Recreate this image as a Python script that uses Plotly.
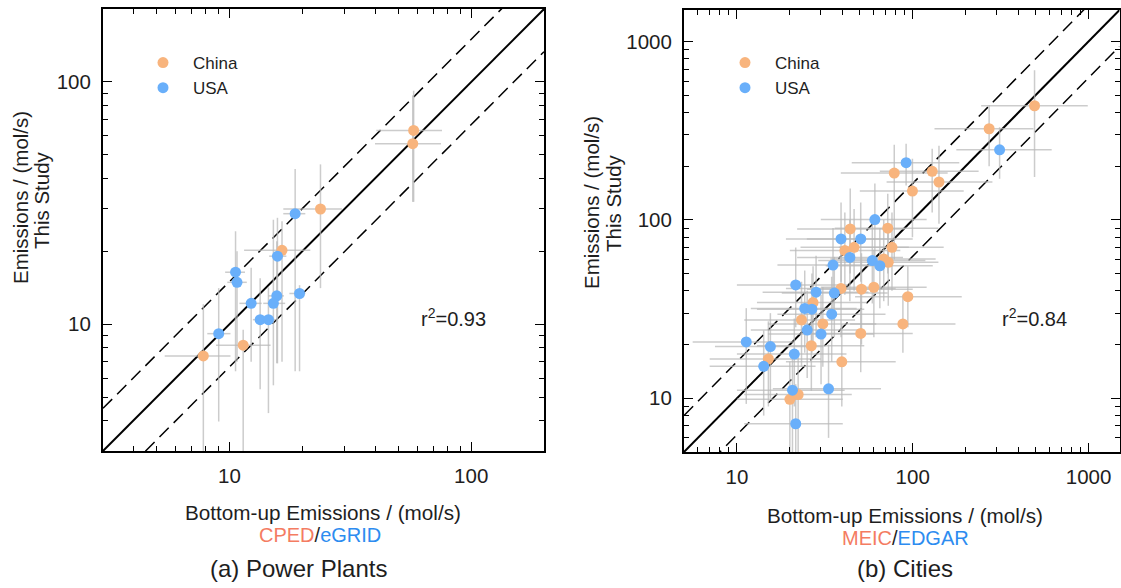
import math
import plotly.graph_objects as go

W, H = 1121, 588

# ---------------- Panel (a) Power Plants ----------------
pp_china_x = [57.8, 57.3, 23.8, 16.5, 11.4, 7.8]
pp_china_y = [63.1, 55.6, 29.9, 20.2, 8.2, 7.4]
pp_china_xlo = [40.5, 40.0, 16.7, 11.5, 8.8, 5.4]
pp_china_xhi = [75.7, 75.0, 29.2, 21.6, 14.8, 10.1]
pp_china_ylo = [32.0, 32.0, 14.1, 7.0, 2.0, 2.0]
pp_china_yhi = [92.0, 88.0, 45.7, 26.6, 9.5, 12.1]

pp_usa_x = [18.7, 15.8, 10.6, 10.75, 12.3, 15.7, 15.2, 19.5, 13.4, 14.5, 9.03]
pp_usa_y = [28.6, 19.1, 16.4, 14.9, 12.2, 13.1, 12.2, 13.4, 10.45, 10.45, 9.15]
pp_usa_xlo = [16.7, 14.6, 9.6, 9.8, 11.0, 14.5, 13.8, 17.7, 12.5, 13.5, 8.1]
pp_usa_xhi = [20.6, 17.2, 11.6, 11.8, 13.6, 16.8, 17.0, 20.6, 14.5, 15.5, 10.1]
pp_usa_ylo = [6.4, 6.9, 6.4, 7.0, 7.0, 6.9, 5.6, 6.4, 5.4, 4.3, 3.97]
pp_usa_yhi = [43.7, 27.5, 24.2, 20.0, 17.1, 22.0, 27.0, 14.5, 15.5, 14.2, 14.1]

# ---------------- Panel (b) Cities ----------------
ct_china_x = [493, 272, 78.5, 129, 141, 99.6, 44.1, 72.1, 76.2, 46.4, 41.1, 68.4, 72.6,
              51.1, 60.1, 39.1, 93.8, 87.9, 50.6, 39.5, 30.8, 27.1, 23.3, 26.5, 15.1, 20.0, 22.3]
ct_china_y = [436, 324, 183, 187, 163, 145, 89, 89.8, 70.2, 70.2, 67.3, 60.4, 57.8,
              40.9, 41.9, 41.3, 37.1, 26.1, 23.1, 16.0, 26.1, 34.4, 27.5, 19.7, 16.6, 9.87, 10.5]
ct_china_xlo = [245, 133, 39, 65, 71, 50, 22, 36, 38, 23, 20, 34, 36,
                25, 30, 19, 47, 44, 25, 19, 15, 13, 11, 13, 7, 10, 11]
ct_china_xhi = [990, 486, 158, 237, 284, 195, 90, 140, 150, 95, 85, 135, 140,
                100, 120, 80, 190, 175, 100, 80, 62, 55, 47, 53, 30, 40, 45]
ct_china_ylo = [174, 200, 60, 110, 95, 80, 50, 50, 40, 40, 38, 35, 33,
                20, 22, 22, 25, 18, 14, 9, 15, 20, 15, 11, 9, 4, 5]
ct_china_yhi = [690, 440, 264, 250, 260, 220, 150, 140, 110, 115, 110, 100, 95,
                65, 68, 70, 55, 38, 40, 26, 42, 55, 45, 32, 27, 16, 17]

ct_usa_x = [312, 91.7, 60.9, 39.1, 50.6, 43.9, 35.2, 58.9, 65.0, 21.6, 28.2, 35.8,
            24.3, 26.7, 34.6, 25.1, 30.1, 11.3, 15.5, 14.2, 21.2, 20.7, 33.2, 21.6]
ct_usa_y = [247, 209, 100.4, 78.2, 78.2, 61.6, 55.8, 59.1, 55.3, 43.2, 39.3, 38.9,
            31.9, 31.6, 29.6, 24.1, 22.9, 20.7, 19.5, 15.1, 17.7, 11.1, 11.3, 7.2]
ct_usa_xlo = [177, 45, 30, 19, 25, 22, 17, 29, 32, 10, 14, 18,
              12, 13, 17, 12, 15, 5.6, 7.5, 7, 10, 10, 16, 11]
ct_usa_xhi = [617, 184, 120, 80, 100, 88, 70, 118, 130, 43, 56, 72,
              48, 53, 70, 50, 60, 21, 31, 28, 42, 41, 66, 40]
ct_usa_ylo = [170, 156, 60, 45, 45, 35, 32, 34, 32, 25, 22, 22,
              18, 18, 16, 13, 12, 9.3, 10, 8, 9, 5, 6, 3]
ct_usa_yhi = [330, 267, 160, 125, 125, 100, 90, 95, 90, 70, 63, 62,
              52, 50, 48, 40, 38, 32, 30, 24, 28, 18, 20, 12]

# Axis ranges / ratio lines
pp_range = [3, 200]
ct_range = [5, 1500]
pp_ratio = 1.5
ct_ratio = 1.6

CHINA_COLOR = "#F8B47D"
USA_COLOR = "#69AFFA"
ERR_COLOR = "rgba(185,185,185,0.72)"
FONT = "Arial, Liberation Sans, sans-serif"
TXT = "#1e1e1e"

fig = go.Figure()


def add_panel(xa, ya, data, rng, ratio, legend):
    lo, hi = rng
    # reference lines
    fig.add_trace(go.Scatter(x=[lo, hi], y=[lo, hi], mode="lines", xaxis=xa, yaxis=ya,
                             line=dict(color="black", width=2), showlegend=False, hoverinfo="skip"))
    for f in (ratio, 1 / ratio):
        fig.add_trace(go.Scatter(x=[lo, hi], y=[lo * f, hi * f], mode="lines", xaxis=xa, yaxis=ya,
                                 line=dict(color="black", width=1.5, dash="13px,7px"),
                                 showlegend=False, hoverinfo="skip"))
    # error bars (behind all markers)
    for (x, y, xl, xh, yl, yh, name, color) in data:
        fig.add_trace(go.Scatter(
            x=x, y=y, mode="markers", xaxis=xa, yaxis=ya,
            marker=dict(size=1, color="rgba(0,0,0,0)"),
            error_x=dict(type="data", symmetric=False,
                         array=[h - v for h, v in zip(xh, x)],
                         arrayminus=[v - l for v, l in zip(x, xl)],
                         color=ERR_COLOR, thickness=1.5, width=0),
            error_y=dict(type="data", symmetric=False,
                         array=[h - v for h, v in zip(yh, y)],
                         arrayminus=[v - l for v, l in zip(y, yl)],
                         color=ERR_COLOR, thickness=1.5, width=0),
            showlegend=False, hoverinfo="skip"))
    for (x, y, xl, xh, yl, yh, name, color) in data:
        fig.add_trace(go.Scatter(
            x=x, y=y, mode="markers", xaxis=xa, yaxis=ya, name=name,
            marker=dict(size=11, color=color, line=dict(width=0)),
            legend=legend, legendgroup=name, showlegend=True))


add_panel("x", "y", [
    (pp_china_x, pp_china_y, pp_china_xlo, pp_china_xhi, pp_china_ylo, pp_china_yhi, "China", CHINA_COLOR),
    (pp_usa_x, pp_usa_y, pp_usa_xlo, pp_usa_xhi, pp_usa_ylo, pp_usa_yhi, "USA", USA_COLOR),
], pp_range, pp_ratio, "legend")

add_panel("x2", "y2", [
    (ct_china_x, ct_china_y, ct_china_xlo, ct_china_xhi, ct_china_ylo, ct_china_yhi, "China", CHINA_COLOR),
    (ct_usa_x, ct_usa_y, ct_usa_xlo, ct_usa_xhi, ct_usa_ylo, ct_usa_yhi, "USA", USA_COLOR),
], ct_range, ct_ratio, "legend2")

minor_vals = [m * 10 ** e for e in range(0, 4) for m in range(2, 10)]


def axis(domain, rng, ticks, anchor, standoff):
    return dict(
        domain=domain, type="log", range=[math.log10(rng[0]), math.log10(rng[1])],
        anchor=anchor, showgrid=False, zeroline=False,
        showline=True, linecolor="black", linewidth=2, mirror="allticks",
        ticks="inside", ticklen=9, tickwidth=1.3, tickcolor="black",
        tickmode="array", tickvals=ticks, ticktext=[str(t) for t in ticks],
        tickfont=dict(family=FONT, size=20.5, color=TXT),
        ticklabelstandoff=standoff,
        minor=dict(ticks="inside", ticklen=5, tickwidth=1, tickcolor="black",
                   tickmode="array", tickvals=minor_vals, showgrid=False),
    )


fig.update_layout(
    width=W, height=H, margin=dict(l=0, r=0, t=0, b=0),
    paper_bgcolor="white", plot_bgcolor="white",
    font=dict(family=FONT, color=TXT),
    xaxis=axis([103 / W, 544 / W], pp_range, [10, 100], "y", 5),
    yaxis=axis([1 - 451 / H, 1 - 9 / H], pp_range, [10, 100], "x", 6),
    xaxis2=axis([684 / W, 1119.5 / W], ct_range, [10, 100, 1000], "y2", 5),
    yaxis2=axis([1 - 452 / H, 1 - 10 / H], ct_range, [10, 100, 1000], "x2", 6),
    legend=dict(x=(163 - 30) / W, y=1 - 45 / H, xanchor="left", yanchor="top",
                bgcolor="rgba(0,0,0,0)", font=dict(family=FONT, size=17, color=TXT),
                itemwidth=50, tracegroupgap=0),
    legend2=dict(x=(745 - 30) / W, y=1 - 45 / H, xanchor="left", yanchor="top",
                 bgcolor="rgba(0,0,0,0)", font=dict(family=FONT, size=17, color=TXT),
                 itemwidth=50, tracegroupgap=0),
    showlegend=True,
)


def ann(text, x, y, size, color=TXT, angle=0, xref="paper", yref="paper"):
    fig.add_annotation(text=text, x=x, y=y, xref=xref, yref=yref, showarrow=False,
                       xanchor="center", yanchor="middle", textangle=angle,
                       font=dict(family=FONT, size=size, color=color))


ann("r<sup>2</sup>=0.93", 0.794, 0.303, 20, xref="x domain", yref="y domain")
ann("r<sup>2</sup>=0.84", 0.805, 0.305, 20, xref="x2 domain", yref="y2 domain")

# y-axis titles
ann("Emissions / (mol/s)", 20 / W, 1 - 198 / H, 20.5, angle=-90)
ann("This Study", 42 / W, 1 - 200 / H, 20.5, angle=-90)
ann("Emissions / (mol/s)", 591 / W, 1 - 203 / H, 20.5, angle=-90)
ann("This Study", 613 / W, 1 - 203 / H, 20.5, angle=-90)

# x-axis titles and captions
RED = "#F47C62"
BLUE = "#2D8CF0"
ann("Bottom-up Emissions / (mol/s)", 323 / W, 1 - 512 / H, 20.7)
ann(f"<span style='color:{RED}'>CPED</span>/<span style='color:{BLUE}'>eGRID</span>", 320 / W, 1 - 535 / H, 20)
ann("(a) Power Plants", 298 / W, 1 - 568 / H, 24)
ann("Bottom-up Emissions / (mol/s)", 905 / W, 1 - 515 / H, 20.7)
ann(f"<span style='color:{RED}'>MEIC</span>/<span style='color:{BLUE}'>EDGAR</span>", 905 / W, 1 - 538 / H, 20)
ann("(b) Cities", 905 / W, 1 - 568 / H, 24)

fig.write_html("out.html", config={"displayModeBar": False},
               post_script="document.body.style.margin='0px';document.body.style.overflow='hidden';")
